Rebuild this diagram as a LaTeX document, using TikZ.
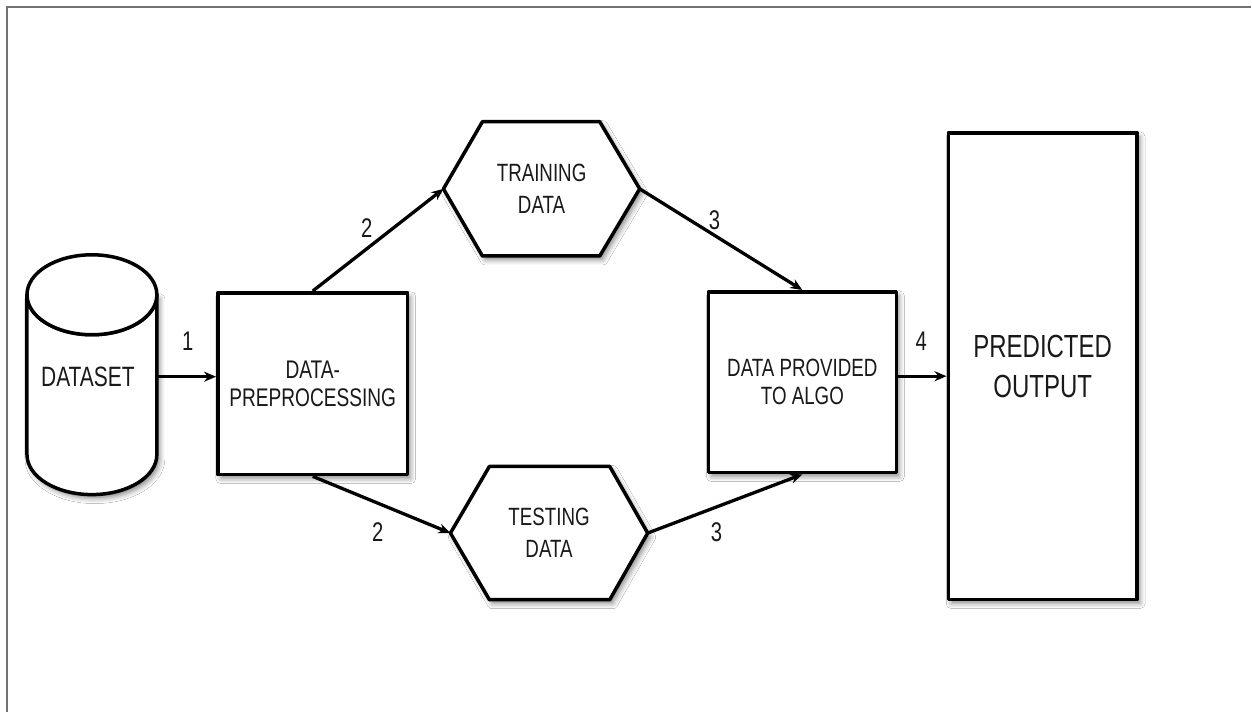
\documentclass[tikz,border=0pt]{standalone}
\usepackage{fontspec}
\setmainfont[FakeStretch=0.75]{Liberation Sans}
\usetikzlibrary{arrows.meta,shadows.blur,calc}

\begin{document}
\begin{tikzpicture}[x=1pt,y=-1pt,
  frame/.style={draw=black!55, line width=2pt},
  softshadow/.style={blur shadow={shadow xshift=3pt, shadow yshift=-4pt,
      shadow blur radius=5pt, shadow opacity=45}},
  outline/.style={draw=black, line width=3.5pt, fill=white, line join=round, softshadow},
  boxed/.style={outline, align=center, text=black!90, inner sep=0pt,
      font=\fontsize{25}{28}\selectfont},
  anchorbox/.style={inner sep=0pt, draw=none},
  hextext/.style={align=center, text=black!90, inner sep=0pt,
      font=\fontsize{25}{32}\selectfont},
  flow/.style={line width=3.3pt, -{Stealth[length=12pt,width=10pt]}},
  lbl/.style={text=black!90, inner sep=0pt, font=\fontsize{27}{29}\selectfont},
]
% page
\fill[white] (0,0) rectangle (1252,713);
\draw[frame] (7,713) -- (7,7) -- (1252,7);

% dataset cylinder
\draw[outline] (27,295) -- (27,455)
  arc[start angle=180, end angle=0, x radius=65, y radius=40]
  -- (157,295)
  arc[start angle=0, end angle=180, x radius=65, y radius=40] -- cycle;
\draw[draw=black, line width=3.5pt, fill=white] (92,295) ellipse [x radius=65, y radius=40];
\node[anchorbox, minimum width=130pt, text=black!90, font=\fontsize{28}{30}\selectfont]
  (ds) at (88,377) {DATASET};

% processing boxes
\node[boxed, minimum width=190pt, minimum height=182pt,
      font=\fontsize{25.5}{28}\selectfont] (pp) at (313,384)
  {DATA-\\PREPROCESSING};
\node[boxed, minimum width=188pt, minimum height=181pt] (al) at (803,382.5)
  {DATA PROVIDED\\TO ALGO};
\node[boxed, minimum width=189pt, minimum height=467pt,
      font=\fontsize{32}{40}\selectfont] (po) at (1043.5,366.5)
  {PREDICTED\\OUTPUT};

% split data hexagons
\node[anchorbox, minimum width=196pt, minimum height=134pt] (tr) at (542,189) {};
\draw[outline] (tr.west) -- ($(tr.north west)+(39,0)$) -- ($(tr.north east)+(-40,0)$)
  -- (tr.east) -- ($(tr.south east)+(-40,0)$) -- ($(tr.south west)+(39,0)$) -- cycle;
\node[hextext] (tr-text) at (tr) {TRAINING\\DATA};

\node[anchorbox, minimum width=197pt, minimum height=133pt] (te) at (549.5,533.5) {};
\draw[outline] (te.west) -- ($(te.north west)+(39,0)$) -- ($(te.north east)+(-38,0)$)
  -- (te.east) -- ($(te.south east)+(-38,0)$) -- ($(te.south west)+(39,0)$) -- cycle;
\node[hextext] (te-text) at (te) {TESTING\\DATA};

% connectors
\coordinate (in) at (157,377);
\draw[flow] (in) -- (in -| pp.west);
\draw[flow] (pp.north) -- (tr.west);
\draw[flow] (pp.south) -- (te.west);
\draw[flow] (tr.east) -- (al.north);
\draw[flow] (te.east) -- (al.south);
\coordinate (out) at ($(al.east)+(0,-6)$);
\draw[flow] (out) -- (out -| po.west);

% step numbers
\node[lbl] (n1) at (188,341) {1};
\node[lbl] (n2a) at (367,228) {2};
\node[lbl] (n2b) at (378,533) {2};
\node[lbl] (n3a) at (715,220) {3};
\node[lbl] (n3b) at (717,533) {3};
\node[lbl] (n4) at (922,341) {4};
\end{tikzpicture}
\end{document}
